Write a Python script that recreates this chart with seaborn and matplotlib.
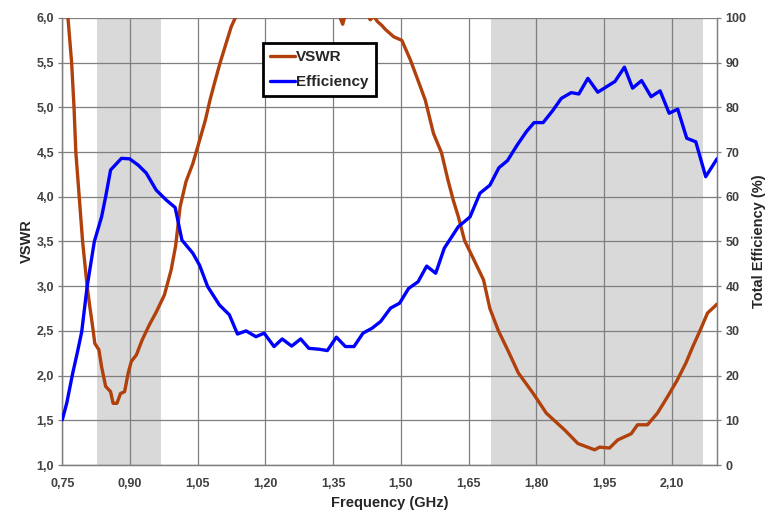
import matplotlib
matplotlib.use("Agg")
import matplotlib.pyplot as plt
import seaborn as sns
import pandas as pd
from matplotlib.lines import Line2D

# ---------------- data ----------------
vswr_freq = [0.750, 0.7626, 0.7707, 0.776, 0.780, 0.7875, 0.795, 0.805, 0.811, 0.8185, 0.822,
             0.831, 0.837, 0.846, 0.857, 0.8625, 0.871, 0.879, 0.888, 0.896, 0.903, 0.914,
             0.927, 0.943, 0.958, 0.976, 0.991, 1.001, 1.011, 1.024, 1.039, 1.050, 1.067,
             1.077, 1.087, 1.099, 1.113, 1.124, 1.133, 1.150, 1.200, 1.280, 1.340, 1.362,
             1.371, 1.380, 1.400, 1.425, 1.432, 1.440, 1.448, 1.457, 1.466, 1.484, 1.502,
             1.521, 1.535, 1.554, 1.572, 1.590, 1.604, 1.616, 1.627, 1.641, 1.665, 1.683,
             1.697, 1.716, 1.738, 1.760, 1.793, 1.822, 1.863, 1.892, 1.929, 1.940, 1.962,
             1.980, 2.010, 2.024, 2.046, 2.068, 2.090, 2.112, 2.131, 2.146, 2.163, 2.179,
             2.194, 2.200]
vswr_vals = [6.60, 6.00, 5.50, 5.00, 4.50, 4.00, 3.50, 3.00, 2.77, 2.50, 2.36,
             2.29, 2.10, 1.88, 1.82, 1.69, 1.69, 1.80, 1.82, 2.03, 2.16, 2.23,
             2.40, 2.57, 2.71, 2.90, 3.18, 3.45, 3.89, 4.17, 4.37, 4.56, 4.86,
             5.08, 5.27, 5.49, 5.72, 5.90, 6.00, 6.40, 6.90, 7.00, 6.40, 6.05,
             5.93, 6.10, 6.20, 6.05, 5.98, 6.02, 5.96, 5.92, 5.87, 5.79, 5.75,
             5.53, 5.34, 5.08, 4.71, 4.49, 4.19, 3.96, 3.78, 3.51, 3.26, 3.07,
             2.75, 2.50, 2.27, 2.03, 1.80, 1.58, 1.39, 1.24, 1.17, 1.20, 1.19,
             1.28, 1.35, 1.45, 1.45, 1.58, 1.76, 1.95, 2.14, 2.32, 2.51, 2.70,
             2.77, 2.80]

eff_freq = [0.750, 0.760, 0.773, 0.783, 0.793, 0.805, 0.821, 0.837, 0.846, 0.857, 0.881,
            0.899, 0.918, 0.936, 0.958, 0.980, 1.000, 1.015, 1.039, 1.054, 1.072, 1.098,
            1.120, 1.138, 1.157, 1.179, 1.197, 1.219, 1.237, 1.258, 1.278, 1.296, 1.319,
            1.337, 1.357, 1.377, 1.396, 1.416, 1.436, 1.455, 1.477, 1.497, 1.517, 1.538,
            1.557, 1.577, 1.596, 1.627, 1.653, 1.675, 1.697, 1.717, 1.736, 1.757, 1.778,
            1.795, 1.815, 1.837, 1.855, 1.877, 1.894, 1.914, 1.936, 1.955, 1.974, 1.995,
            2.013, 2.033, 2.054, 2.074, 2.094, 2.113, 2.133, 2.153, 2.175, 2.200]
eff_vals = [10.1, 13.9, 20.5, 25.0, 29.8, 39.9, 50.0, 55.5, 60.0, 66.0, 68.6,
            68.5, 67.1, 65.3, 61.5, 59.3, 57.6, 50.3, 47.4, 44.7, 39.9, 35.8,
            33.6, 29.3, 30.0, 28.7, 29.5, 26.5, 28.2, 26.6, 28.2, 26.1, 25.9,
            25.6, 28.6, 26.5, 26.5, 29.5, 30.6, 32.1, 35.1, 36.2, 39.5, 41.0,
            44.5, 42.9, 48.5, 53.3, 55.5, 60.8, 62.6, 66.5, 68.1, 71.5, 74.6,
            76.6, 76.6, 79.4, 82.0, 83.3, 83.0, 86.5, 83.4, 84.6, 85.8, 89.0,
            84.3, 86.0, 82.4, 83.7, 78.7, 79.6, 73.1, 72.3, 64.5, 68.5]

bands = [(0.826, 0.968), (1.700, 2.168)]

x_ticks = [0.75, 0.90, 1.05, 1.20, 1.35, 1.50, 1.65, 1.80, 1.95, 2.10]
x_ticklabels = ["0,75", "0,90", "1,05", "1,20", "1,35", "1,50", "1,65", "1,80", "1,95", "2,10"]
y_ticks = [1.0, 1.5, 2.0, 2.5, 3.0, 3.5, 4.0, 4.5, 5.0, 5.5, 6.0]
y_ticklabels = ["1,0", "1,5", "2,0", "2,5", "3,0", "3,5", "4,0", "4,5", "5,0", "5,5", "6,0"]
y2_ticks = [0, 10, 20, 30, 40, 50, 60, 70, 80, 90, 100]

# ---------------- style ----------------
sns.set_style("white")
plt.rcParams['font.family'] = ['Liberation Sans', 'DejaVu Sans']

VSWR_C = "#B0400C"
EFF_C = "#0000FF"
GRID_C = "#7F7F7F"
TICK_C = "#404040"

fig = plt.figure(figsize=(7.68, 5.11), dpi=100)
ax = fig.add_axes([0.0811, 0.090, 0.8525, 0.8748])
ax2 = ax.twinx()

for lo, hi in bands:
    ax.axvspan(lo, hi, color="#D9D9D9", zorder=0, lw=0)

df_v = pd.DataFrame({"f": vswr_freq, "v": vswr_vals})
df_e = pd.DataFrame({"f": eff_freq, "e": eff_vals})
sns.lineplot(data=df_v, x="f", y="v", ax=ax, color=VSWR_C, lw=2.4, zorder=3)
sns.lineplot(data=df_e, x="f", y="e", ax=ax2, color=EFF_C, lw=2.4, zorder=3)

ax.set_xlim(0.75, 2.20)
ax.set_ylim(1.0, 6.0)
ax2.set_ylim(0, 100)

ax.set_xticks(x_ticks)
ax.set_xticklabels(x_ticklabels)
ax.set_yticks(y_ticks)
ax.set_yticklabels(y_ticklabels)
ax2.set_yticks(y2_ticks)
ax2.set_yticklabels([str(v) for v in y2_ticks])

ax.set_axisbelow(True)
ax.grid(True, color=GRID_C, lw=0.9)
ax2.grid(False)

for a in (ax, ax2):
    for s in a.spines.values():
        s.set_color(GRID_C)
        s.set_linewidth(0.9)
    a.spines['top'].set_visible(False)
    a.tick_params(axis='both', which='major', length=3, width=0.9, color=GRID_C,
                  labelsize=9, labelcolor=TICK_C, direction='out', pad=3)
    for lbl in a.get_xticklabels() + a.get_yticklabels():
        lbl.set_fontweight('bold')

ax.tick_params(axis='x', pad=6)
ax.set_xlabel("Frequency (GHz)", fontsize=10.5, fontweight='bold', labelpad=5)
ax.set_ylabel("VSWR", fontsize=10.5, fontweight='bold', labelpad=2)
ax2.set_ylabel("Total Efficiency (%)", fontsize=10.5, fontweight='bold', labelpad=4)

handles = [Line2D([0], [0], color=VSWR_C, lw=2.4), Line2D([0], [0], color=EFF_C, lw=2.4)]
leg = ax2.legend(handles, ["VSWR", "Efficiency"], loc="upper left",
                 bbox_to_anchor=(0.307, 0.944), borderaxespad=0, fancybox=False,
                 framealpha=1, edgecolor="black", handlelength=1.65, handletextpad=0.05,
                 borderpad=0.45, labelspacing=0.75,
                 prop={'weight': 'bold', 'size': 11})
leg.get_frame().set_linewidth(2.0)

fig.savefig("out.png", dpi=100)
